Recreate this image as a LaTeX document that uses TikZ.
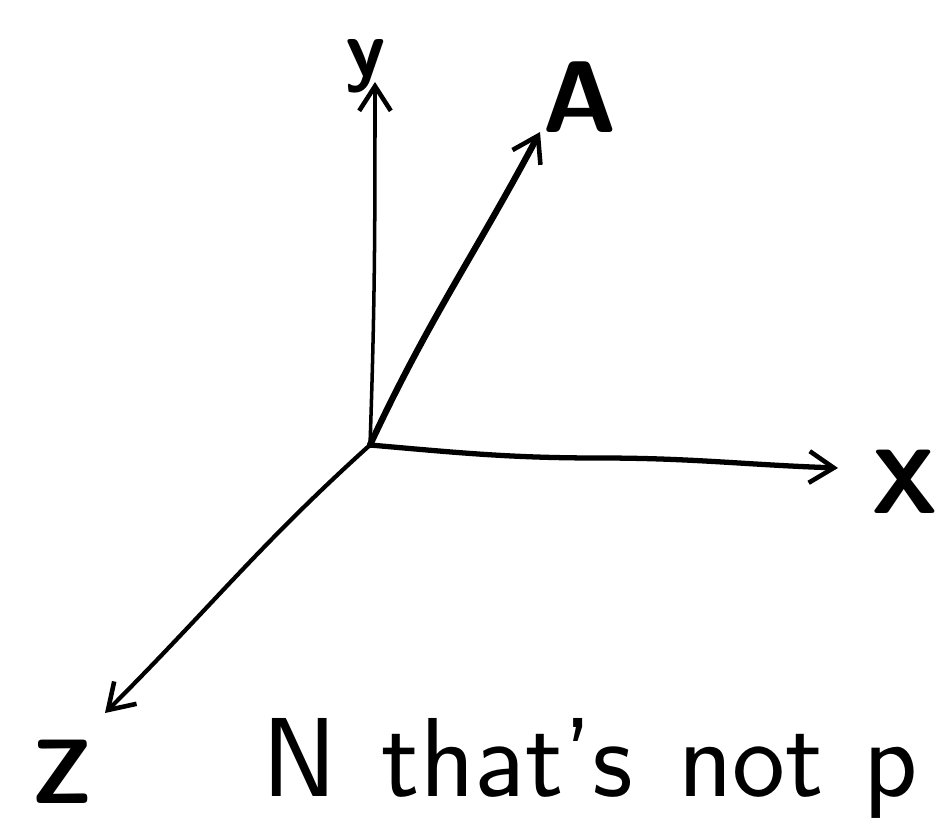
\documentclass[tikz,border=0pt]{standalone}
\usepackage{fontspec}
\usetikzlibrary{arrows.meta}
\begin{document}
\begin{tikzpicture}[x=0.02cm,y=-0.02cm,
  axis/.style={line width=2.6pt,line cap=round,-{Straight Barb[length=14pt,width=18pt,line width=2.6pt]}},
  lbl/.style={inner sep=0pt}]
\useasboundingbox (0,0) rectangle (943,822);
\coordinate (O) at (370,445);
\coordinate (ytip) at (375,82);
\coordinate (Atip) at (540,132);
\coordinate (xtip) at (838,468);
\coordinate (ztip) at (105,713);
\draw[axis,line width=2pt] (O) to[out=88,in=-90] (ytip);
\draw[axis,line width=3.6pt] (O) to[out=65,in=-118] (Atip);
\draw[axis,line width=3pt] (O) to[out=-5,in=180] (600,458) to[out=0,in=178] (xtip);
\draw[axis,line width=2.4pt] (O) to[out=-138,in=45] (ztip);
\node[lbl,font=\fontsize{46}{46}\selectfont\sffamily\bfseries] (ylab) at (366,66) {y};
\node[lbl,font=\fontsize{58}{58}\selectfont\sffamily\bfseries] (Alab) at (580,97) {A};
\node[lbl,font=\fontsize{52}{52}\selectfont\sffamily\bfseries] (xlab) at (905,482) {X};
\node[lbl,font=\fontsize{52}{52}\selectfont\sffamily\bfseries] (zlab) at (62,772) {Z};
\node[lbl,anchor=base west,font=\fontsize{64}{64}\selectfont\sffamily] (note) at (262,796) {N\hspace{0.4em}that's\hspace{0.4em}not\hspace{0.35em}p};
\end{tikzpicture}
\end{document}
